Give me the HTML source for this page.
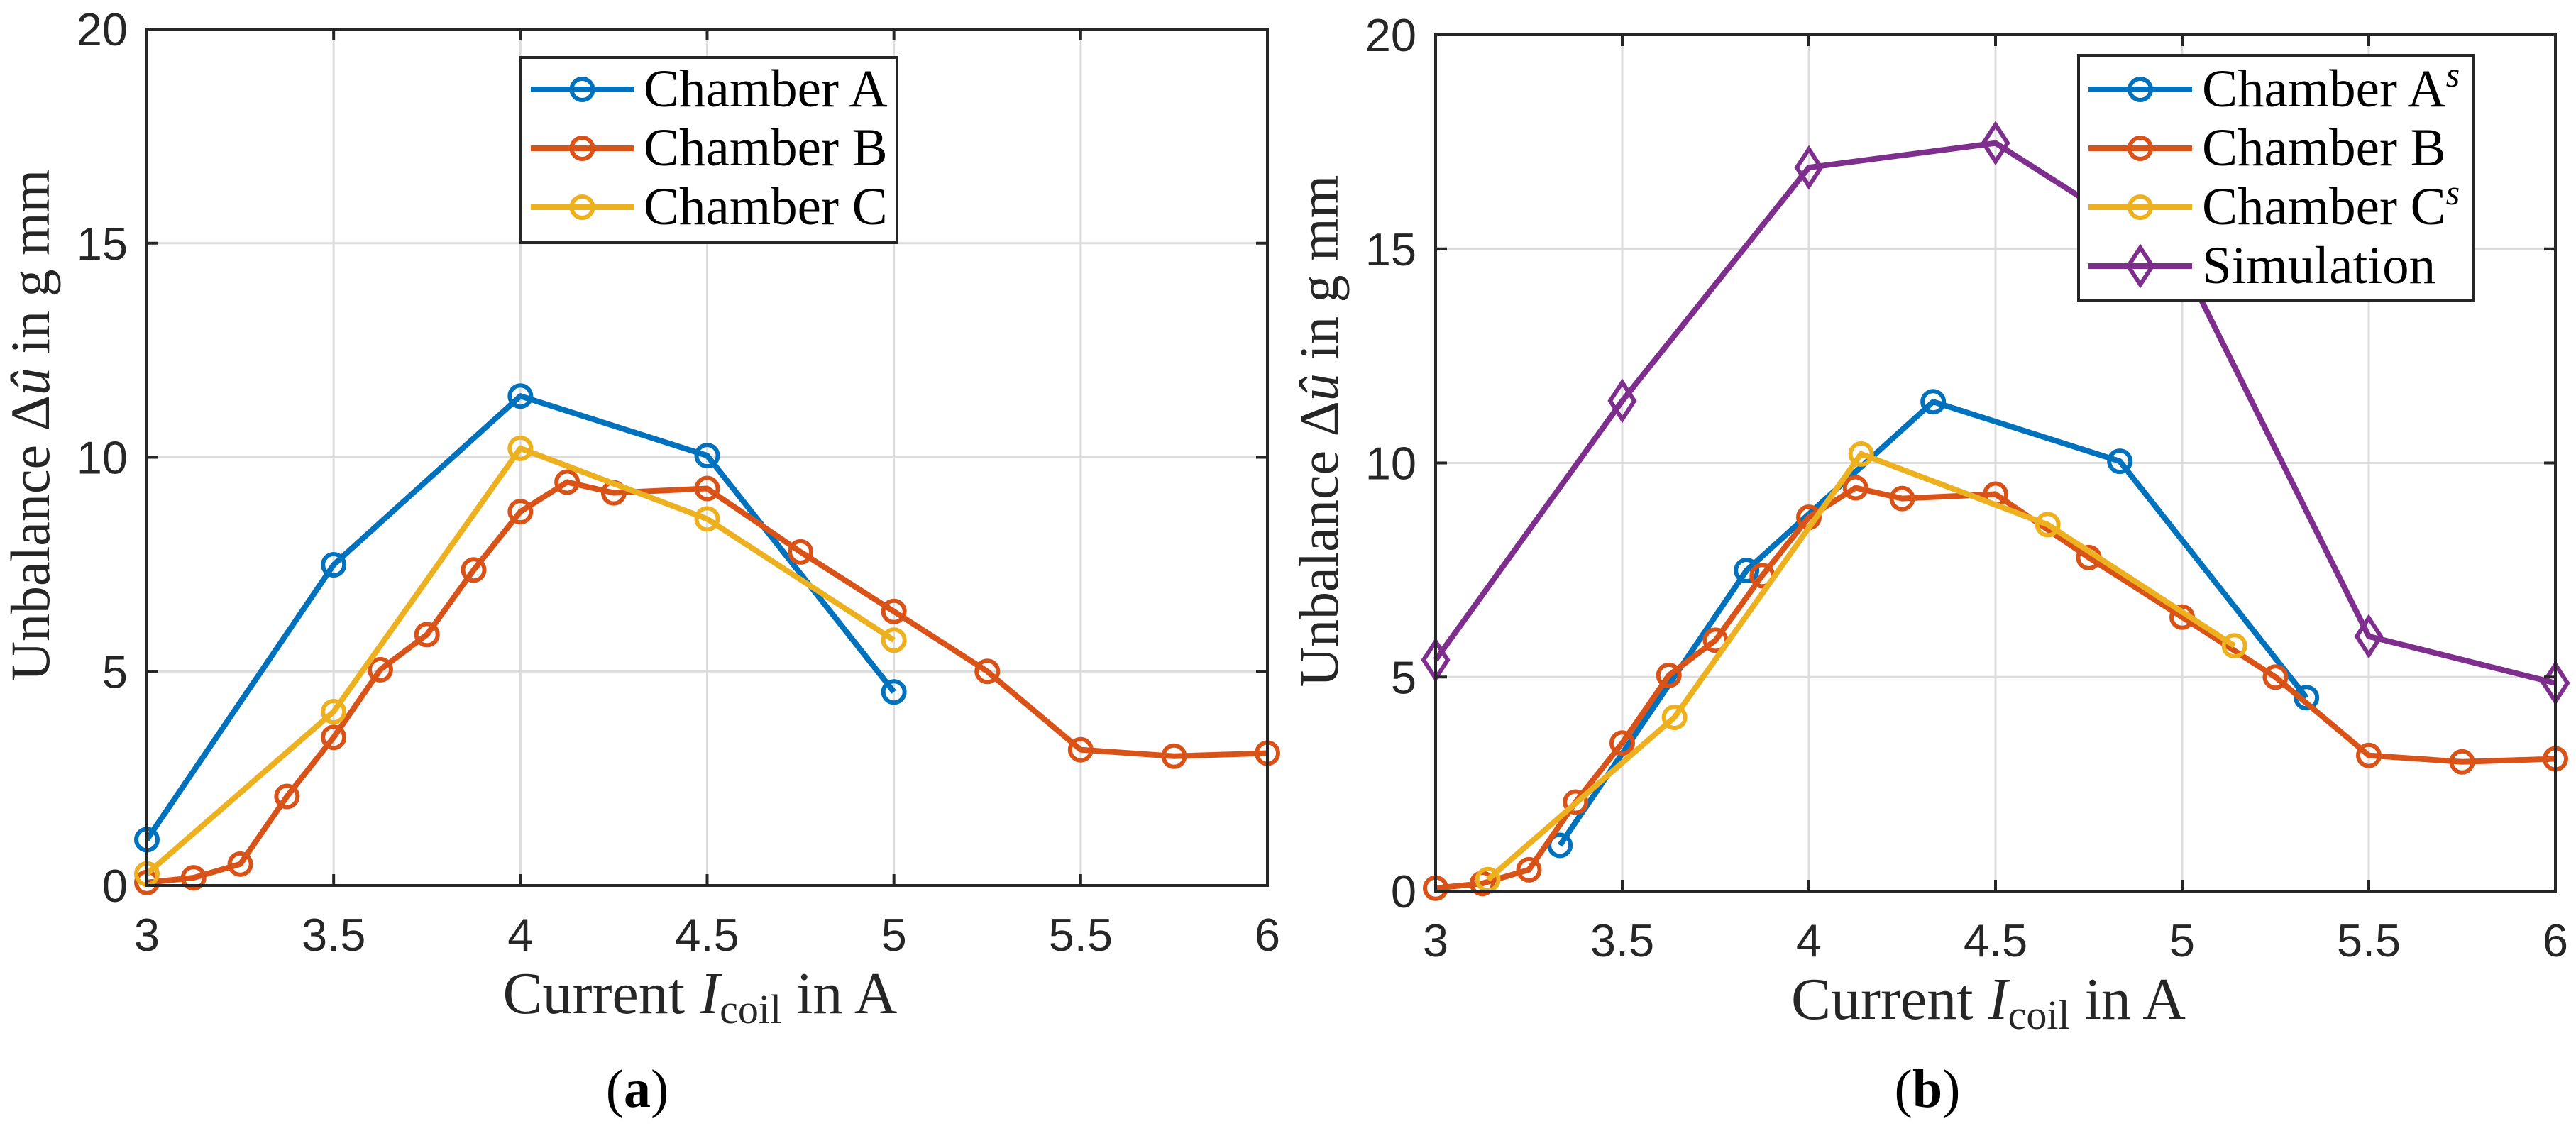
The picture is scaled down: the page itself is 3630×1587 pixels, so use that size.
<!DOCTYPE html>
<html><head><meta charset="utf-8"><style>
html,body{margin:0;padding:0;background:#fff;}
svg{display:block;}
</style></head><body>
<svg id="fig" width="3630" height="1587" viewBox="0 0 3630 1587" xmlns="http://www.w3.org/2000/svg"></svg>
<script>
// ---- data ----
const xTicks = [3, 3.5, 4, 4.5, 5, 5.5, 6];
const xTickLabels = ["3", "3.5", "4", "4.5", "5", "5.5", "6"];
const yTicks = [0, 5, 10, 15, 20];
const yTickLabels = ["0", "5", "10", "15", "20"];

const aX = [3, 3.5, 4, 4.5, 5];
const aY = [1.07, 7.49, 11.43, 10.04, 4.52];
const bX = [3, 3.125, 3.25, 3.375, 3.5, 3.625, 3.75, 3.875, 4, 4.125, 4.25, 4.5, 4.75, 5, 5.25, 5.5, 5.75, 6];
const bY = [0.07, 0.18, 0.5, 2.08, 3.46, 5.04, 5.86, 7.37, 8.73, 9.42, 9.17, 9.27, 7.79, 6.4, 5.0, 3.17, 3.02, 3.09];
const cX = [3, 3.5, 4, 4.5, 5];
const cY = [0.27, 4.06, 10.21, 8.56, 5.73];

const asX = [3.333, 3.833, 4.333, 4.833, 5.333];
const asY = [1.07, 7.49, 11.43, 10.04, 4.52];
const csX = [3.14, 3.64, 4.14, 4.64, 5.14];
const csY = [0.27, 4.06, 10.21, 8.56, 5.73];
const simX = [3, 3.5, 4, 4.5, 5, 5.5, 6];
const simY = [5.4, 11.45, 16.9, 17.47, 14.7, 5.95, 4.86];

const BLUE = "#0072BD", ORANGE = "#D95319", YELLOW = "#EDB120", PURPLE = "#7E2F8E";
const NS = "http://www.w3.org/2000/svg";
const svg = document.getElementById('fig');

function mk(tag, attrs, parent) {
  const e = document.createElementNS(NS, tag);
  for (const k in attrs) e.setAttribute(k, attrs[k]);
  (parent || svg).appendChild(e);
  return e;
}

function panel(cfg) {
  const g = mk('g', {});
  
  
  const L = cfg.left, R = cfg.right, T = cfg.top, B = cfg.bottom;
  const sx = v => L + (v - 3) / 3 * (R - L);
  const sy = v => B - v / 20 * (B - T);
  const grid = mk('g', {stroke: '#dcdcdc', 'stroke-width': 3}, g);
  
  
  xTicks.forEach(t => mk('line', {x1: sx(t), x2: sx(t), y1: T, y2: B}, grid));
  yTicks.forEach(t => mk('line', {x1: L, x2: R, y1: sy(t), y2: sy(t)}, grid));
  cfg.series.forEach(s => {
    const sg = mk('g', {}, g);
    
    
    const pts = s.x.map((v, i) => sx(v) + ',' + sy(s.y[i])).join(' ');
    mk('polyline', {points: pts, fill: 'none', stroke: s.color, 'stroke-width': 8, 'stroke-linejoin': 'round'}, sg);
    s.x.forEach((v, i) => {
      const cx = sx(v), cy = sy(s.y[i]);
      let m;
      if (s.marker === 'd') {
        m = mk('polygon', {points: `${cx},${cy-26} ${cx+17},${cy} ${cx},${cy+26} ${cx-17},${cy}`, fill: 'none', stroke: s.color, 'stroke-width': 6}, sg);
      } else {
        m = mk('circle', {cx: cx, cy: cy, r: 15, fill: 'none', stroke: s.color, 'stroke-width': 6}, sg);
      }
      
      
    });
  });
  const box = mk('rect', {x: L, y: T, width: R - L, height: B - T, fill: 'none', stroke: '#262626', 'stroke-width': 4}, g);
  
  
  const ticks = mk('g', {stroke: '#262626', 'stroke-width': 4}, g);
  
  
  xTicks.forEach(t => {
    mk('line', {x1: sx(t), x2: sx(t), y1: B, y2: B - 16}, ticks);
    mk('line', {x1: sx(t), x2: sx(t), y1: T, y2: T + 16}, ticks);
  });
  yTicks.forEach(t => {
    mk('line', {x1: L, x2: L + 16, y1: sy(t), y2: sy(t)}, ticks);
    mk('line', {x1: R, x2: R - 16, y1: sy(t), y2: sy(t)}, ticks);
  });
  const xl = mk('g', {'font-family': 'Liberation Sans, sans-serif', 'font-size': 65, fill: '#262626', 'text-anchor': 'middle'}, g);
  
  
  xTicks.forEach((t, i) => { const e = mk('text', {x: sx(t), y: B + 92}, xl); e.textContent = xTickLabels[i]; });
  const yl = mk('g', {'font-family': 'Liberation Sans, sans-serif', 'font-size': 65, fill: '#262626', 'text-anchor': 'end'}, g);
  
  
  yTicks.forEach((t, i) => { const e = mk('text', {x: L - 27, y: sy(t) + 23}, yl); e.textContent = yTickLabels[i]; });
  const xt = mk('text', {x: (L + R) / 2 - 10, y: B + 180, 'font-family': 'Liberation Serif, serif', 'font-size': 84, fill: '#262626', 'text-anchor': 'middle'}, g);
  
  
  xt.innerHTML = 'Current <tspan font-style="italic">I</tspan><tspan font-size="58" dy="14">coil</tspan><tspan dy="-14"> in A</tspan>';
  const ytx = L - 138, yty = (T + B) / 2 - 45;
  const yt = mk('text', {x: ytx, y: yty, transform: `rotate(-90 ${ytx} ${yty})`, 'font-family': 'Liberation Serif, serif', 'font-size': 78, fill: '#262626', 'text-anchor': 'middle'}, g);
  
  
  yt.innerHTML = 'Unbalance Δ<tspan font-style="italic">û</tspan> in g mm';
  const cap = mk('text', {x: cfg.capX, y: 1560, 'font-family': 'Liberation Serif, serif', 'font-size': 76, fill: '#000', 'text-anchor': 'middle'}, g);
  
  
  cap.innerHTML = '(<tspan font-weight="bold">' + cfg.cap + '</tspan>)';
  const lg = mk('g', {}, g);
  
  
  const Lb = cfg.legend;
  mk('rect', {x: Lb.x, y: Lb.y, width: Lb.w, height: Lb.h, fill: '#fff', stroke: '#262626', 'stroke-width': 4}, lg);
  cfg.series.forEach((s, i) => {
    const ry = Lb.rows[i];
    const le = mk('g', {}, lg);
    
    
    mk('line', {x1: Lb.lx1, x2: Lb.lx2, y1: ry, y2: ry, stroke: s.color, 'stroke-width': 8}, le);
    const mx = (Lb.lx1 + Lb.lx2) / 2;
    if (s.marker === 'd') mk('polygon', {points: `${mx},${ry-26} ${mx+17},${ry} ${mx},${ry+26} ${mx-17},${ry}`, fill: 'none', stroke: s.color, 'stroke-width': 6}, le);
    else mk('circle', {cx: mx, cy: ry, r: 15, fill: 'none', stroke: s.color, 'stroke-width': 6}, le);
    const t = mk('text', {x: Lb.tx, y: ry + 24, 'font-family': 'Liberation Serif, serif', 'font-size': 75, fill: '#000'}, le);
    t.innerHTML = s.label;
  });
}

panel({
  name: 'panel-a', left: 207, right: 1786, top: 41, bottom: 1248, cap: 'a', capX: 898,
  series: [
    {id: 'chamber-a', x: aX, y: aY, color: BLUE, marker: 'o', label: 'Chamber A'},
    {id: 'chamber-b', x: bX, y: bY, color: ORANGE, marker: 'o', label: 'Chamber B'},
    {id: 'chamber-c', x: cX, y: cY, color: YELLOW, marker: 'o', label: 'Chamber C'}
  ],
  legend: {x: 733, y: 81, w: 531, h: 261, rows: [126, 209, 292], lx1: 748, lx2: 893, tx: 907}
});
panel({
  name: 'panel-b', left: 2023, right: 3601, top: 49, bottom: 1256, cap: 'b', capX: 2716,
  series: [
    {id: 'chamber-a-s', x: asX, y: asY, color: BLUE, marker: 'o', label: 'Chamber A<tspan font-style="italic" font-size="50" dy="-28">s</tspan>'},
    {id: 'chamber-b', x: bX, y: bY, color: ORANGE, marker: 'o', label: 'Chamber B'},
    {id: 'chamber-c-s', x: csX, y: csY, color: YELLOW, marker: 'o', label: 'Chamber C<tspan font-style="italic" font-size="50" dy="-28">s</tspan>'},
    {id: 'simulation', x: simX, y: simY, color: PURPLE, marker: 'd', label: 'Simulation'}
  ],
  legend: {x: 2929, y: 78, w: 556, h: 345, rows: [126, 209, 292, 375], lx1: 2943, lx2: 3089, tx: 3103}
});
</script>
</body></html>
